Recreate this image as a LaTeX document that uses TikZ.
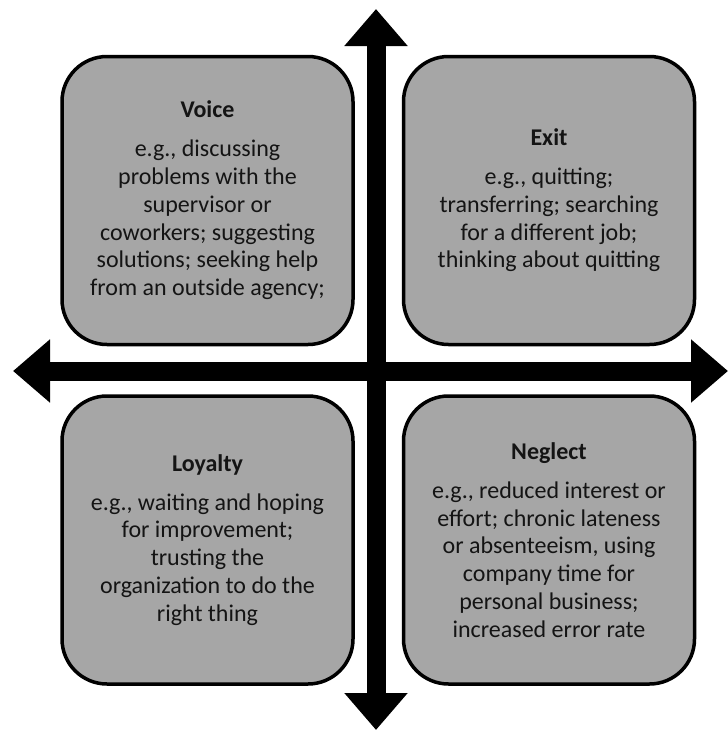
\documentclass[tikz,border=0pt]{standalone}
\usepackage{fontspec}
\setmainfont{Carlito}
\usepackage{tikz}
\usetikzlibrary{arrows.meta}
\definecolor{boxgray}{RGB}{166,166,166}
\definecolor{ink}{RGB}{20,20,20}

\begin{document}
\begin{tikzpicture}[x=1pt, y=-1pt,
    quadbox/.style={rectangle, rounded corners=45pt, minimum width=291pt,
        minimum height=288pt, draw=black, line width=3.5pt, fill=boxgray,
        text=ink, align=center, font=\fontsize{24}{27.8}\selectfont},
    axis/.style={line width=19pt, draw=black,
        {Triangle[length=37pt, width=61pt]}-{Triangle[length=37pt, width=61pt]}}
]
\useasboundingbox (0,0) rectangle (728,731);

\node[quadbox] (voice) at (207.5,200.5) {\textbf{Voice}\\[11pt]e.g., discussing\\problems with the\\supervisor or\\coworkers; suggesting\\solutions; seeking help\\from an outside agency;};
\node[quadbox] (exit) at (549,200.5) {\textbf{Exit}\\[11pt]e.g., quitting;\\transferring; searching\\for a different job;\\thinking about quitting};
\node[quadbox] (loyalty) at (207.5,540) {\textbf{Loyalty}\\[11pt]e.g., waiting and hoping\\for improvement;\\trusting the\\organization to do the\\right thing};
\node[quadbox] (neglect) at (549,540) {\textbf{Neglect}\\[11pt]e.g., reduced interest or\\effort; chronic lateness\\or absenteeism, using\\company time for\\personal business;\\increased error rate};

% axes
\coordinate (north) at (376,9);
\coordinate (south) at (376,730);
\coordinate (west) at (13,371);
\coordinate (east) at (728,371);
\draw[axis] (south) -- (north);
\draw[axis] (west) -- (east);

\end{tikzpicture}
\end{document}
